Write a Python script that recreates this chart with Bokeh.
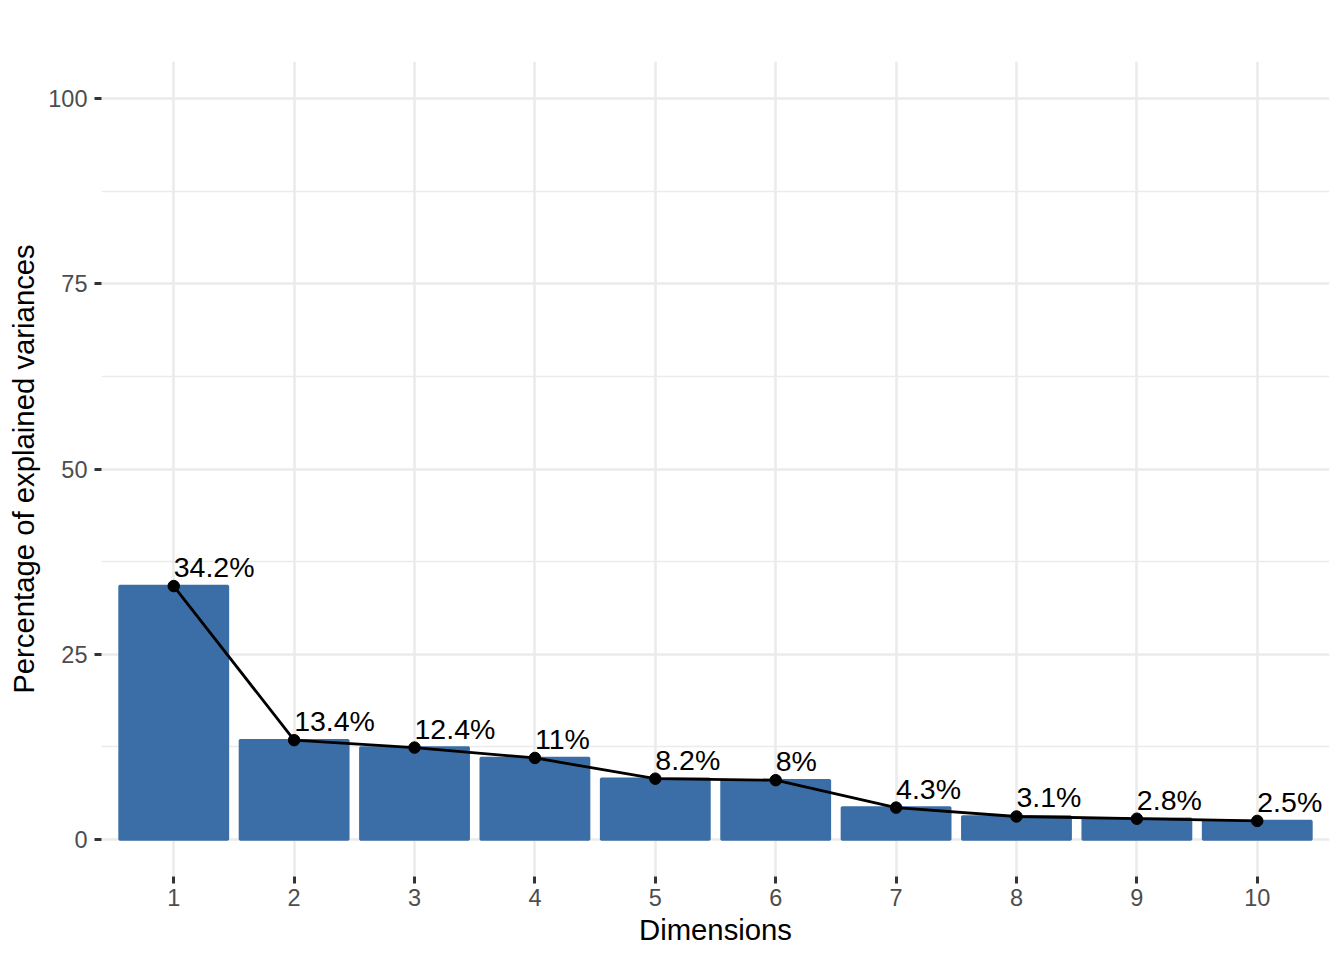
from bokeh.plotting import figure
from bokeh.models import Range1d, FixedTicker, ColumnDataSource
from bokeh.core.properties import value
from bokeh.embed import file_html
from bokeh.resources import INLINE

# ---- data ----
dimensions = [1, 2, 3, 4, 5, 6, 7, 8, 9, 10]
explained = [34.2, 13.4, 12.4, 11.0, 8.2, 8.0, 4.3, 3.1, 2.8, 2.5]
labels = [f"{v:g}%" for v in explained]
y_ticks = [0, 25, 50, 75, 100]
y_minor = [12.5, 37.5, 62.5, 87.5]

FONT = "Liberation Sans"
BAR = "#3B6EA6"

src = ColumnDataSource(dict(x=dimensions, y=explained, lab=labels))

p = figure(width=1344, height=960, output_backend="svg", toolbar_location=None,
           x_range=Range1d(0.4, 10.6), y_range=Range1d(-5, 105),
           min_border_left=101, min_border_right=15, min_border_top=61, min_border_bottom=84)
p.outline_line_color = None
p.background_fill_color = "white"
p.border_fill_color = "white"

p.vbar(x="x", top="y", bottom=0, width=0.9, source=src,
       fill_color=BAR, line_color=BAR, line_width=2.5)
p.line(x="x", y="y", source=src, line_color="black", line_width=2.8)
p.scatter(x="x", y="y", source=src, size=11.5, fill_color="black", line_color="black")
p.text(x="x", y="y", text="lab", source=src, text_font=value(FONT),
       text_font_size="28.5px", text_color="black", text_align="left",
       text_baseline="alphabetic", x_offset=0, y_offset=-19)

# axes
p.xaxis.ticker = FixedTicker(ticks=dimensions)
p.yaxis.ticker = FixedTicker(ticks=y_ticks, minor_ticks=y_minor)
for ax in (p.xaxis[0], p.yaxis[0]):
    ax.axis_line_color = None
    ax.major_tick_line_color = "#333333"
    ax.major_tick_line_width = 3
    ax.major_tick_in = 0
    ax.major_tick_out = 7
    ax.minor_tick_line_color = None
    ax.major_label_text_font = FONT
    ax.major_label_text_font_size = "23.5px"
    ax.major_label_text_color = "#4D4D4D"
    ax.axis_label_text_font = FONT
    ax.axis_label_text_font_size = "29.3px"
    ax.axis_label_text_font_style = "normal"
    ax.axis_label_text_color = "black"

p.xaxis.axis_label = "Dimensions"
p.yaxis.axis_label = "Percentage of explained variances"
p.xaxis.major_label_standoff = 5
p.xaxis.axis_label_standoff = 4
p.yaxis.major_label_standoff = 7
p.yaxis.axis_label_standoff = 5

# grids
p.xgrid.grid_line_color = "#EBEBEB"
p.xgrid.grid_line_width = 2.6
p.ygrid.grid_line_color = "#EBEBEB"
p.ygrid.grid_line_width = 2.6
p.ygrid.minor_grid_line_color = "#EBEBEB"
p.ygrid.minor_grid_line_width = 1.3

open("out.html", "w").write(file_html(p, INLINE))
